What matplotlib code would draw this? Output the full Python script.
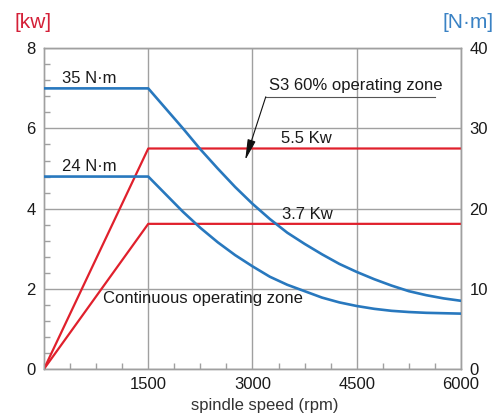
import matplotlib
matplotlib.use("Agg")
import matplotlib.pyplot as plt
from matplotlib.ticker import MultipleLocator

plt.rcParams["font.family"] = ["Liberation Sans", "DejaVu Sans"]

# ---- data ----
speed_power = [0, 1500, 6000]
power_s3 = [0, 5.5, 5.5]          # kW
power_cont = [0, 3.62, 3.62]      # kW

speed_torque = [0, 1500, 1750, 2000, 2250, 2500, 2750, 3000, 3250, 3500, 3750,
                4000, 4250, 4500, 4750, 5000, 5250, 5500, 5750, 6000]
torque_s3 = [35, 35, 32.5, 30.0, 27.4, 25.0, 22.7, 20.6, 18.7, 17.0, 15.6,
             14.3, 13.1, 12.1, 11.2, 10.4, 9.7, 9.2, 8.8, 8.5]          # N·m
torque_cont = [24, 24, 21.8, 19.6, 17.6, 15.8, 14.2, 12.8, 11.5, 10.5, 9.7,
               8.9, 8.3, 7.85, 7.5, 7.25, 7.1, 7.0, 6.95, 6.9]          # N·m

x_ticks = [1500, 3000, 4500, 6000]
kw_ticks = [0, 2, 4, 6, 8]
nm_ticks = [0, 10, 20, 30, 40]

RED = "#e0202c"
BLUE = "#2878be"
GRID = "#a0a0a0"
TXT = "#1a1a1a"

fig = plt.figure(figsize=(5.0, 4.15), dpi=100)
ax = fig.add_axes([0.088, 0.111, 0.834, 0.7726])
ax2 = ax.twinx()

ax.set_xlim(0, 6000)
ax.set_ylim(0, 8)
ax2.set_ylim(0, 40)

ax.grid(True, which="major", color=GRID, linewidth=1.0)
ax.set_axisbelow(True)
for a in (ax, ax2):
    for s in a.spines.values():
        s.set_color(GRID)
        s.set_linewidth(1.0)

ax.set_xticks(x_ticks)
ax.set_yticks(kw_ticks)
ax2.set_yticks(nm_ticks)
ax.xaxis.set_minor_locator(MultipleLocator(375))
ax.yaxis.set_minor_locator(MultipleLocator(0.4))
ax.tick_params(axis="both", which="major", length=0, labelsize=12, labelcolor=TXT, pad=6)
ax.tick_params(axis="both", which="minor", direction="in", length=4, color=GRID, width=1)
ax2.tick_params(axis="y", which="both", length=0, labelsize=12, labelcolor=TXT, pad=6)

ax.plot(speed_power, power_s3, color=RED, lw=1.6, zorder=3)
ax.plot(speed_power, power_cont, color=RED, lw=1.6, zorder=3)
ax2.plot(speed_torque, torque_s3, color=BLUE, lw=1.9, zorder=3)
ax2.plot(speed_torque, torque_cont, color=BLUE, lw=1.9, zorder=3)

fs = 12
ax.text(655, 7.25, "35 N·m", ha="center", va="center", fontsize=fs, color=TXT)
ax.text(655, 5.05, "24 N·m", ha="center", va="center", fontsize=fs, color=TXT)
ax.text(3776, 5.76, "5.5 Kw", ha="center", va="center", fontsize=fs, color=TXT)
ax.text(3783, 3.86, "3.7 Kw", ha="center", va="center", fontsize=fs, color=TXT)
ax.text(2280, 1.75, "Continuous operating zone", ha="center", va="center",
        fontsize=fs, color=TXT)
ax.text(3240, 7.08, "S3 60% operating zone", ha="left", va="center",
        fontsize=fs, color=TXT)
ax.plot([3191, 5627], [6.79, 6.79], color="#555555", lw=0.8)
ax.annotate("", xy=(2895, 5.21), xytext=(3191, 6.79),
            arrowprops=dict(arrowstyle="-|>,head_length=0.9,head_width=0.18",
                            color="#111111", lw=0.8,
                            mutation_scale=14, shrinkA=0, shrinkB=0))

fig.text(0.066, 0.946, "[kw]", color="#d42038", fontsize=15, ha="center", va="center")
fig.text(0.936, 0.946, "[N·m]", color="#3a82c4", fontsize=15, ha="center", va="center")
fig.text(0.53, 0.024, "spindle speed (rpm)", color="#333333", fontsize=12,
         ha="center", va="center")

fig.savefig("out.png", dpi=100)
